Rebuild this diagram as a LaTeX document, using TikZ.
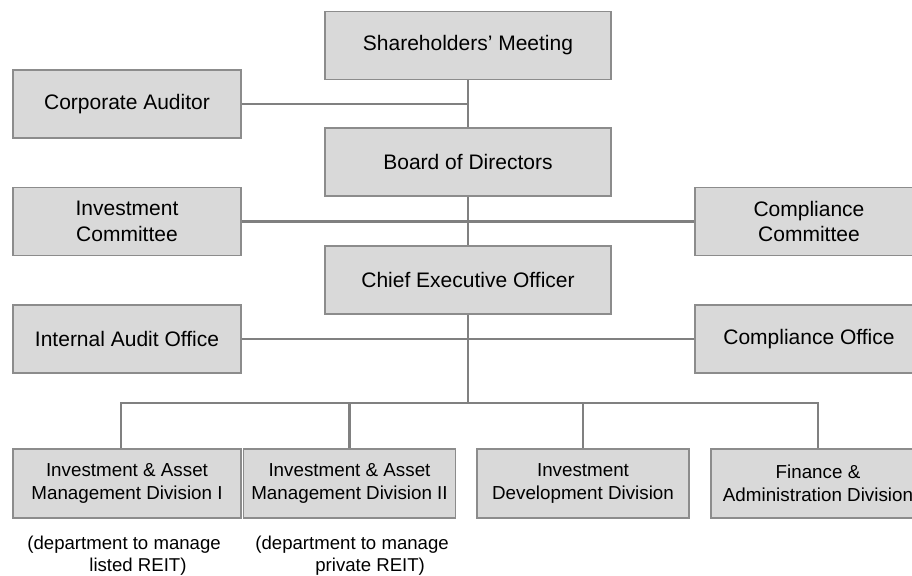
\documentclass[tikz,border=0pt]{standalone}
\usepackage{fontspec}
\setmainfont{Liberation Sans}
\usepackage{tikz}
\usetikzlibrary{positioning}

\definecolor{boxfill}{HTML}{D9D9D9}
\definecolor{boxline}{HTML}{8C8C8C}
\definecolor{wire}{HTML}{808080}

\begin{document}
\begin{tikzpicture}[x=0.5pt,y=-0.5pt,
  font=\fontsize{10.5}{12.8}\selectfont,
  unit/.style={draw=boxline,line width=0.9pt,fill=boxfill,align=center,
    inner sep=1pt,minimum height=34pt},
  top/.style={unit,minimum width=143pt},
  side/.style={unit,minimum width=114pt},
  div/.style={unit,minimum width=106pt,minimum height=34.5pt,
    font=\fontsize{9.4}{11.5}\selectfont},
  wire/.style={draw=wire,line width=1.3pt},
  note/.style={align=left,inner sep=0pt,anchor=north west,
    font=\fontsize{9.3}{11}\selectfont}]

\clip (0,0) rectangle (912,575);

% Governing bodies down the middle
\node[top] (share) at (468,45.5) {Shareholders' Meeting};
\node[top] (board) at (468,162) {Board of Directors};
\node[top] (ceo) at (468,280) {Chief Executive Officer};

% Boxes hanging off the trunk
\node[side] (aud) at (127,104) {Corporate Auditor};
\node[side] (invc) at (127,221.5) {Investment\\Committee};
\node[side] (comc) at (809,221.5) {Compliance\\Committee};
\node[side] (iao) at (127,339) {Internal Audit Office};
\node[side] (cmo) at (809,339) {Compliance Office};

% Divisions
\node[div,minimum width=114pt] (div1) at (127,483.5)
  {Investment \& Asset\\Management Division I};
\node[div] (div2) at (349.5,483.5)
  {Investment \& Asset\\Management Division II};
\node[div] (div3) at (583,483.5)
  {Investment\\Development Division};
\node[div,minimum width=107pt] (div4) at (818,483.5)
  {Finance \&\\Administration Division};

\node[note] (note1) at (27,536) {(department to manage\\\hspace*{31pt}listed REIT)};
\node[note] (note2) at (255,536) {(department to manage\\\hspace*{30pt}private REIT)};

% Trunk and branches
\coordinate (bus) at (468,403);
\draw[wire] (share.south) -- (board.north);
\draw[wire] (board.south) -- (ceo.north);
\draw[wire] (ceo.south) -- (bus);
\draw[wire] (aud.east) -- (aud.east -| share.south);
\draw[wire] (invc.east) -- (invc.east -| board.south);
\draw[wire] (comc.west) -- (comc.west -| board.south);
\draw[wire] (iao.east) -- (iao.east -| ceo.south);
\draw[wire] (cmo.west) -- (cmo.west -| ceo.south);
\draw[wire] ([xshift=-3pt]div1.north) -- ([xshift=-3pt]div1.north |- bus)
  -- (div4.north |- bus) -- (div4.north);
\draw[wire] (div2.north) -- (div2.north |- bus);
\draw[wire] (div3.north) -- (div3.north |- bus);

\end{tikzpicture}
\end{document}
